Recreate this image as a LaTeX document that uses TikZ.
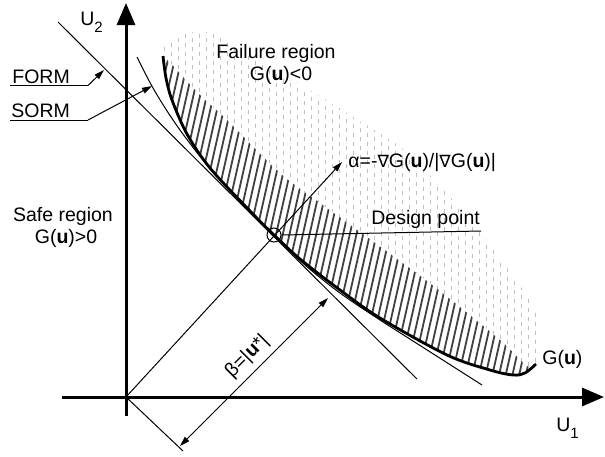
\documentclass[tikz,border=0pt]{standalone}
\usepackage{fontspec}
\setmainfont{Liberation Sans}
\newfontfamily\dejavu{DejaVu Sans}
\usetikzlibrary{arrows.meta}
\newcommand\mysub[1]{\raisebox{-3.5pt}{\fontsize{7.5}{8}\selectfont #1}}
\newcommand\nab{{\dejavu\fontsize{8.5}{10}\selectfont ∇}}
\begin{document}
\begin{tikzpicture}[x=0.5pt,y=-0.5pt,
  every node/.style={font=\fontsize{9.75}{11}\selectfont, inner sep=0pt},
  axisln/.style={line width=1.5pt, -{Triangle[length=11pt,width=9pt]}},
  thinln/.style={line width=0.5pt},
  leader/.style={line width=0.5pt, -{Triangle[length=5pt,width=3pt]}},
  dimln/.style={line width=0.5pt, {Triangle[length=5pt,width=3pt]}-{Triangle[length=5pt,width=3pt]}},
  gcurve/.style={line width=1.4pt},
  hatchln/.style={line width=0.9pt, black!75},
  dotln/.style={line width=0.45pt, black!25},
]
\useasboundingbox (0,0) rectangle (605,456);

% ---------- failure region (light dashes) ----------
\begin{scope}
\clip plot[smooth, tension=0.55] coordinates {(163,56) (166,78) (172,100) (187,134) (210,168) (250,211) (274,235) (300,259) (340,290) (380,318) (447,355) (490,370) (513,375) (525,373) (536,364)}
  -- plot[smooth, tension=0.55] coordinates {(536,364) (541,340) (537,315) (523,290) (503,262) (483,235) (450,197) (407,152) (355,118) (300,84) (252,55) (218,35) (192,32) (170,40) (159,52) (163,56)} -- cycle;
\foreach \x in {150,164,...,560} \draw[dotln, dash pattern=on 2pt off 2.5pt] (\x,20) -- (\x,390);
\foreach \x in {157,171,...,560} \draw[dotln, dash pattern=on 2pt off 2.5pt, dash phase=2.2pt] (\x,20) -- (\x,390);
\end{scope}

% ---------- hatched band ----------
\begin{scope}
\clip plot[smooth, tension=0.55] coordinates {(163,56) (166,78) (172,100) (187,134) (210,168) (250,211) (274,235) (300,259) (340,290) (380,318) (447,355) (490,370) (513,375) (525,373) (536,364)}
  -- plot[smooth, tension=0.55] coordinates {(536,364) (527,366) (500,340) (440,291) (400,261) (360,232) (320,203) (280,173) (227,120) (200,95) (175,68) (163,56)} -- cycle;
\fill[white] (100,0) rectangle (600,420);
\foreach \x in {40,46.7,...,560} \draw[hatchln] (\x,420) -- (\x+90,20);
\end{scope}

% ---------- axes ----------
\coordinate (O) at (126,397);
\coordinate (yb) at (126,416);
\coordinate (yt) at (126,3);
\coordinate (xl) at (62,397);
\coordinate (xr) at (604,397);
\draw[axisln] (yb) -- (yt);
\draw[axisln] (xl) -- (xr);
\node[anchor=base west] (u2) at (80,25) {U\mysub{2}};
\node[anchor=base west] (u1) at (556,431) {U\mysub{1}};

% ---------- FORM line ----------
\coordinate (f1) at (58,22);
\coordinate (f2) at (417,379);
\draw[thinln] (f1) -- (f2);

% ---------- SORM curve ----------
\draw[thinln] plot[smooth, tension=0.55] coordinates {(137,57) (153,88) (173,120) (195,150) (217,176) (245,205) (274,235) (305,265) (340,293) (380,320) (413,341) (482,385)};

% ---------- limit state G(u) ----------
\draw[gcurve] plot[smooth, tension=0.55] coordinates {(163,56) (166,78) (172,100) (187,134) (210,168) (250,211) (274,235) (300,259) (340,290) (380,318) (447,355) (490,370) (513,375) (525,373) (536,364)};
\node[anchor=base west] (glab) at (542,364) {G(\textbf{u})};

% ---------- design point, alpha ----------
\node[circle, draw, line width=0.5pt, minimum size=7pt] (dp) at (274,235) {};
\coordinate (atip) at (342,162);
\draw[leader] (O) -- (atip);
\node[anchor=base west] (alab) at (348,167) {α=-\nab G(\textbf{u})/|\nab G(\textbf{u})|};
\coordinate (dpend) at (481,231);
\draw[thinln] (dp.east) -- (dpend);
\node[anchor=base west] (dplab) at (371,224) {Design point};

% ---------- beta dimension ----------
\coordinate (ext) at (183,451);
\draw[thinln] (O) -- (ext);
\coordinate (bA) at (180,446);
\coordinate (bB) at (328,298);
\draw[dimln] (bA) -- node[sloped, above=3pt, pos=0.53] (blab) {β=|\textbf{u}*|} (bB);

% ---------- FORM / SORM labels ----------
\node[anchor=base west] (formlab) at (12,83) {FORM};
\coordinate (fu1) at (10,85.5);
\coordinate (fu2) at (88,85.5);
\coordinate (ftip) at (104,70);
\draw[thinln] (fu1) -- (fu2);
\draw[leader] (fu2) -- (ftip);
\node[anchor=base west] (sormlab) at (11,117.5) {SORM};
\coordinate (su1) at (10,120);
\coordinate (su2) at (88,120);
\coordinate (stip) at (152,86);
\draw[thinln] (su1) -- (su2);
\draw[leader] (su2) -- (stip);

% ---------- region labels ----------
\node[anchor=base] (fail1) at (276,58) {Failure region};
\node[anchor=base] (fail2) at (281,80) {G(\textbf{u})<0};
\node[anchor=base] (safe1) at (63,221) {Safe region};
\node[anchor=base] (safe2) at (66,243) {G(\textbf{u})>0};
\end{tikzpicture}
\end{document}
